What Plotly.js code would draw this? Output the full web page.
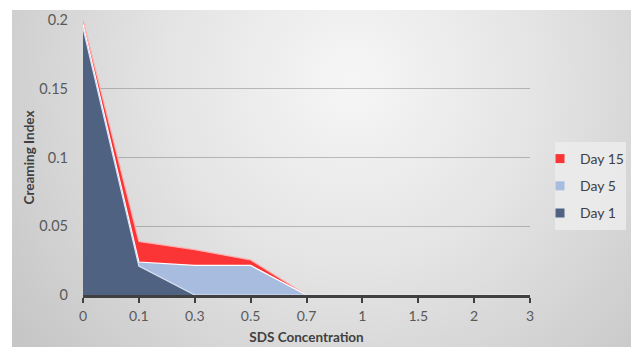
<!DOCTYPE html>
<html>
<head>
<meta charset="utf-8">
<script src="https://cdn.plot.ly/plotly-3.0.1.min.js"></script>
<style>html,body{margin:0;padding:0;background:#fff;}#chart{width:631px;height:347px;}</style>
</head>
<body>
<div id="chart"></div>
<script>
var categories = ['0', '0.1', '0.3', '0.5', '0.7', '1', '1.5', '2', '3'];
var day1 = [0.194, 0.021, 0, 0, 0, 0, 0, 0, 0];
var day5 = [0.197, 0.024, 0.0215, 0.0215, 0, 0, 0, 0, 0];
var day15 = [0.2, 0.039, 0.033, 0.0255, 0, 0, 0, 0, 0];
var seriesNames = ['Day 15', 'Day 5', 'Day 1'];
var seriesColors = ['#fb3535', '#a8bce0', '#4f6282'];
var seriesLines = ['#ffb0b0', '#ffffff', '#d8e2f2'];
var seriesValues = [day15, day5, day1];

var W = 631, H = 347;
var L = 83, R = 530, T = 20, B = 295;
function px(x) { return (x - L) / (R - L); }
function py(y) { return (B - y) / (B - T); }

var bgSvg = "<svg xmlns='http://www.w3.org/2000/svg' width='619' height='337' viewBox='0 0 619 337'>" +
  "<defs><radialGradient id='g' gradientUnits='userSpaceOnUse' cx='340' cy='70' r='420'>" +
  "<stop offset='0' stop-color='#f6f6f6'/><stop offset='0.45' stop-color='#e4e4e4'/><stop offset='1' stop-color='#c6c6c6'/>" +
  "</radialGradient></defs><rect width='619' height='337' fill='url(#g)'/></svg>";
var bgUri = 'data:image/svg+xml;charset=utf-8,' + encodeURIComponent(bgSvg);

var traces = [];
for (var i = 0; i < seriesNames.length; i++) {
  traces.push({
    type: 'scatter', mode: 'lines', x: categories, y: seriesValues[i],
    name: seriesNames[i], fill: 'tozeroy', fillcolor: seriesColors[i],
    line: {color: seriesLines[i], width: 1.2}, showlegend: false, hoverinfo: 'x+y+name'
  });
}
for (var j = 0; j < seriesNames.length; j++) {
  traces.push({
    type: 'scatter', mode: 'markers', x: [null], y: [null], name: seriesNames[j],
    legendgroup: 'g' + j,
    marker: {symbol: 'square', size: 9, color: seriesColors[j]}, showlegend: true
  });
}

var layout = {
  width: W, height: H,
  margin: {l: L, r: W - R, t: T, b: H - B, pad: 0, autoexpand: false},
  paper_bgcolor: '#ffffff', plot_bgcolor: 'rgba(0,0,0,0)',
  font: {family: 'Lato, "Open Sans", sans-serif', size: 14, color: '#595959'},
  xaxis: {
    type: 'category', range: [0, categories.length - 1],
    showgrid: false, zeroline: false,
    showline: true, linecolor: '#404040', linewidth: 2.5,
    ticks: 'outside', ticklen: 5, tickwidth: 2, tickcolor: '#404040', ticklabelstandoff: 2,
    tickfont: {size: 14, color: '#595959'},
    title: {text: '<b>SDS Concentration</b>', font: {size: 13.5, color: '#404040'}, standoff: 10}
  },
  yaxis: {
    range: [0, 0.2], tickvals: [0, 0.05, 0.1, 0.15, 0.2], ticktext: ['0', '0.05', '0.1', '0.15', '0.2'],
    showgrid: true, gridcolor: 'rgba(110,110,110,0.42)', gridwidth: 1.3,
    zeroline: false, showline: false, ticks: '', ticklabelstandoff: 14,
    tickfont: {size: 14.5, color: '#595959'},
    title: {text: '<b>Creaming Index</b>', font: {size: 13.5, color: '#404040'}, standoff: 1}
  },
  legend: {
    x: px(540), y: py(143), xanchor: 'left', yanchor: 'top',
    bgcolor: 'rgba(0,0,0,0)', borderwidth: 0,
    font: {size: 14, color: '#404040'},
    traceorder: 'grouped', tracegroupgap: 6
  },
  images: [{
    source: bgUri, xref: 'paper', yref: 'paper',
    x: px(12), y: py(10), sizex: (W - 12) / (R - L), sizey: (H - 10) / (B - T),
    xanchor: 'left', yanchor: 'top', sizing: 'stretch', layer: 'below'
  }],
  shapes: [{
    type: 'rect', xref: 'paper', yref: 'paper', layer: 'below',
    x0: px(555), x1: px(626), y0: py(230), y1: py(142),
    fillcolor: 'rgba(236,236,236,0.85)', line: {width: 0}
  }]
};

Plotly.newPlot('chart', traces, layout, {displayModeBar: false, staticPlot: true});
</script>
</body>
</html>
